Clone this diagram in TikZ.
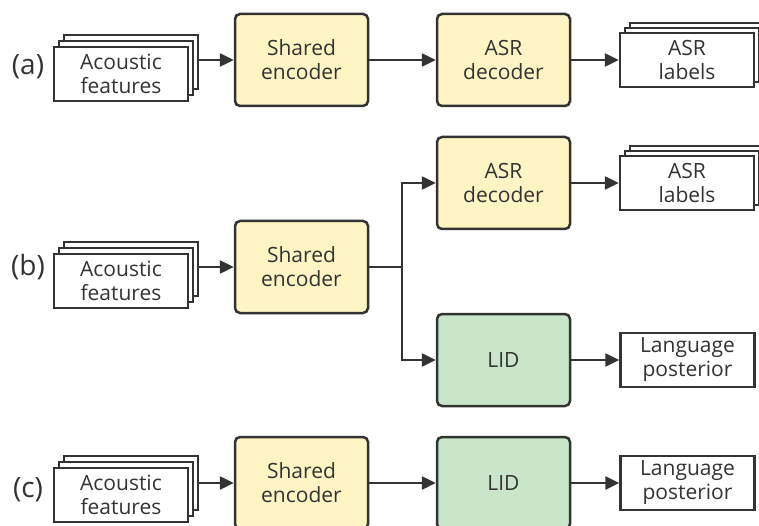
\documentclass[tikz,border=0pt]{standalone}
\usepackage{fontspec}
\setmainfont{Open Sans}
\usetikzlibrary{arrows.meta}
\definecolor{ink}{HTML}{333333}
\definecolor{encfill}{HTML}{FFF5C4}
\definecolor{lidfill}{HTML}{C9E6CA}
\tikzset{
  x=1pt, y=-1pt,
  block/.style={draw=ink, line width=2.5pt, rounded corners=5pt, minimum width=133pt,
    minimum height=92pt, align=center, text=ink, font=\fontsize{21}{24}\selectfont, inner sep=0pt},
  encblock/.style={block, fill=encfill},
  lidblock/.style={block, fill=lidfill},
  databox/.style={draw=ink, line width=2.5pt, fill=white, minimum width=134pt, minimum height=54pt,
    align=center, text=ink, font=\fontsize{21}{24}\selectfont, inner sep=0pt},
  blank/.style={databox},
  flow/.style={draw=ink, line width=2.5pt, -{Triangle[length=14pt, width=13pt]}},
  tag/.style={text=ink, font=\fontsize{28}{32}\selectfont, inner sep=0pt}
}
\begin{document}
\begin{tikzpicture}
\useasboundingbox (0,0) rectangle (759,526);
\clip (0,0) rectangle (759,526);

% ---------- (a) ----------
\node[tag] (la) at (28,67) {(a)};
\node[blank] (a-in3) at (131,62) {};
\node[blank] (a-in2) at (126,68) {};
\node[databox] (a-in) at (121,74) {Acoustic\\features};
\node[encblock] (a-enc) at (301.5,60) {Shared\\encoder};
\node[encblock] (a-dec) at (503.5,60) {ASR\\decoder};
\node[blank] (a-out3) at (697,50) {};
\node[blank] (a-out2) at (692,55) {};
\node[databox] (a-out) at (687,60) {ASR\\labels};
\draw[flow] (a-in3.east |- a-enc.west) -- (a-enc.west);
\draw[flow] (a-enc) -- (a-dec);
\draw[flow] (a-dec) -- (a-out);

% ---------- (b) ----------
\node[tag] (lb) at (28,267) {(b)};
\node[blank] (b-in3) at (131,269) {};
\node[blank] (b-in2) at (126,275) {};
\node[databox] (b-in) at (121,281) {Acoustic\\features};
\node[encblock] (b-enc) at (301.5,267) {Shared\\encoder};
\node[encblock] (b-dec) at (503.5,183) {ASR\\decoder};
\node[lidblock] (b-lid) at (503.5,360) {LID};
\node[blank] (b-out3) at (697,173) {};
\node[blank] (b-out2) at (692,178) {};
\node[databox] (b-out) at (687,183) {ASR\\labels};
\node[databox] (b-post) at (687.5,360) {Language\\posterior};
\coordinate (split) at (402,267);
\draw[flow] (b-in3.east |- b-enc.west) -- (b-enc.west);
\draw[draw=ink, line width=2.5pt] (b-enc.east) -- (split);
\draw[flow] (split) |- (b-dec.west);
\draw[flow] (split) |- (b-lid.west);
\draw[flow] (b-dec) -- (b-out);
\draw[flow] (b-lid) -- (b-post);

% ---------- (c) ----------
\node[tag] (lc) at (28,490) {(c)};
\node[blank] (c-in3) at (131,483) {};
\node[blank] (c-in2) at (126,489) {};
\node[databox] (c-in) at (121,495) {Acoustic\\features};
\node[encblock] (c-enc) at (301.5,483) {Shared\\encoder};
\node[lidblock] (c-lid) at (503.5,483) {LID};
\node[databox] (c-post) at (687.5,483) {Language\\posterior};
\draw[flow] (c-in3.east |- c-enc.west) -- (c-enc.west);
\draw[flow] (c-enc) -- (c-lid);
\draw[flow] (c-lid) -- (c-post);
\end{tikzpicture}
\end{document}
